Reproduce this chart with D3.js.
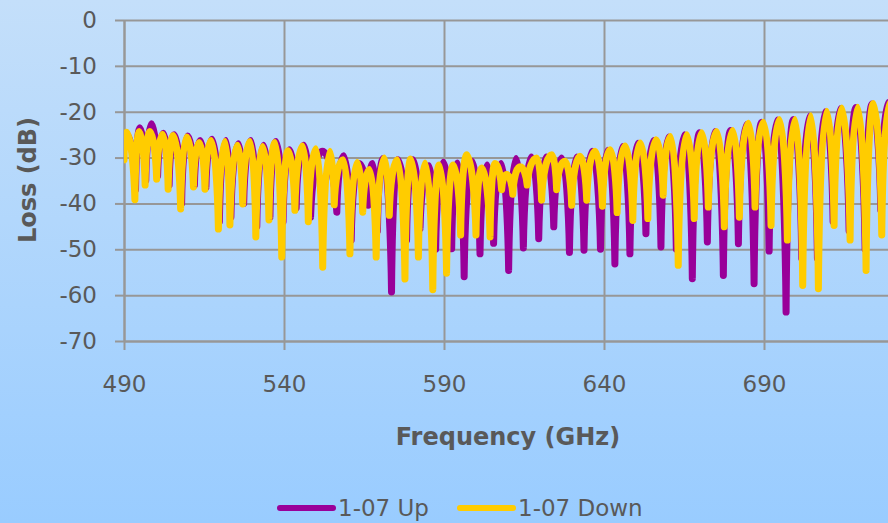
<!DOCTYPE html>
<meta charset="utf-8">
<script src="https://d3js.org/d3.v7.min.js"></script>
<style type="text/css">
  body { margin: 0; }
  text { font-family: "DejaVu Sans", Verdana, sans-serif; fill: #595959; }
</style>
<body>
<svg width="888" height="523"></svg>
<script>

    // tick labels
    let xTicks = [490, 540, 590, 640, 690],
        yTicks = [0, -10, -20, -30, -40, -50, -60, -70]

    let seriesNames = ['1-07 Up', '1-07 Down'],
        seriesColors = ['#990099', '#ffcc00']

    // [frequency GHz, loss dB] at each ripple peak / notch
    let upPts = [[490.0,-28.0],[490.9,-25.0],[493.6,-37.0],[495.0,-23.5],[496.8,-35.0],[498.6,-22.6],[500.5,-34.0],[502.3,-24.7],
        [504.1,-36.0],[505.7,-25.0],[508.0,-40.0],[509.9,-25.3],[512.0,-36.0],[513.8,-26.3],[515.6,-36.5],[517.5,-26.0],
        [519.8,-44.0],[521.9,-26.3],[523.4,-43.0],[525.8,-27.0],[527.4,-40.0],[529.7,-26.3],[531.5,-45.0],[533.6,-27.3],
        [535.6,-43.0],[537.5,-26.5],[539.7,-44.0],[541.7,-28.3],[543.8,-41.0],[546.2,-27.3],[548.3,-43.0],[552.0,-28.6],
        [556.5,-41.9],[558.6,-29.6],[561.0,-48.0],[563.4,-31.3],[566.3,-40.4],[567.7,-31.3],[569.2,-46.0],[571.0,-30.2],
        [573.6,-59.3],[575.6,-30.5],[578.3,-48.0],[580.3,-30.5],[582.5,-45.5],[585.3,-31.8],[587.4,-50.0],[589.8,-31.0],
        [592.4,-49.9],[594.3,-31.2],[596.3,-56.0],[598.8,-30.8],[601.25,-51.0],[603.5,-31.6],[605.5,-48.7],[607.9,-31.3],
        [610.2,-54.6],[612.5,-30.2],[614.8,-49.7],[617.3,-29.9],[619.6,-47.7],[622.0,-29.9],[624.3,-45.1],[626.8,-30.1],
        [629.2,-50.7],[631.5,-29.9],[633.75,-50.2],[636.3,-28.6],[638.9,-50.0],[641.2,-28.4],[643.4,-53.2],[645.8,-27.6],
        [648.1,-51.0],[650.6,-26.9],[653.1,-46.6],[655.5,-26.3],[657.8,-49.5],[660.2,-25.5],[662.6,-50.0],[665.2,-25.0],
        [667.6,-56.4],[669.9,-24.6],[672.3,-48.4],[674.7,-24.3],[677.3,-55.7],[679.6,-24.1],[682.0,-48.8],[684.5,-22.8],
        [686.9,-57.5],[689.3,-22.3],[691.6,-50.4],[694.2,-21.8],[696.9,-63.7],[699.2,-21.7],[701.8,-52.0],[704.2,-21.0],
        [706.7,-52.0],[709.1,-20.0],[711.6,-44.0],[713.9,-19.3],[716.6,-46.0],[718.8,-19.1],[721.6,-50.0],[723.8,-18.3],
        [726.5,-41.5],[728.8,-18.0],[731.3,-40.0]]

    let downPts = [[490.0,-30.5],[490.8,-24.5],[493.4,-39.2],[494.8,-24.3],[496.6,-36.0],[498.1,-24.3],[500.2,-34.7],[502.1,-24.9],
        [503.8,-36.9],[505.4,-25.2],[507.7,-41.2],[509.6,-25.5],[511.7,-36.4],[513.5,-26.7],[515.3,-36.9],[517.2,-26.3],
        [519.5,-45.6],[521.6,-26.5],[523.1,-44.7],[525.5,-27.3],[527.1,-40.1],[529.4,-26.5],[531.2,-47.3],[533.3,-27.6],
        [535.3,-43.6],[537.2,-26.7],[539.3,-51.7],[541.3,-28.5],[543.4,-41.5],[545.8,-27.5],[547.6,-44.0],[550.0,-28.1],
        [552.1,-53.9],[554.4,-28.6],[555.7,-40.3],[558.5,-30.5],[560.6,-51.0],[562.9,-31.1],[564.6,-41.9],[566.7,-32.6],
        [568.8,-51.7],[571.3,-30.1],[572.9,-42.6],[575.4,-30.5],[577.8,-56.5],[579.6,-30.3],[582.0,-51.7],[584.1,-31.2],
        [586.5,-58.8],[588.5,-31.6],[590.8,-55.2],[592.9,-31.6],[595.2,-46.9],[597.1,-29.4],[600.0,-46.9],[601.8,-32.3],
        [604.4,-47.3],[605.9,-31.3],[608.0,-37.0],[609.6,-33.7],[611.5,-38.0],[613.8,-32.0],[616.0,-36.0],[619.0,-30.1],
        [620.5,-39.3],[623.7,-29.4],[625.2,-37.0],[627.8,-30.8],[629.9,-40.4],[632.5,-29.7],[634.6,-39.3],[637.2,-28.6],
        [639.5,-40.6],[641.9,-28.3],[644.1,-42.0],[646.6,-27.5],[649.0,-43.7],[651.3,-26.8],[653.7,-43.3],[656.3,-26.1],
        [658.5,-38.2],[660.8,-25.4],[663.2,-53.5],[665.8,-25.0],[668.2,-43.3],[670.5,-24.6],[672.6,-40.8],[675.2,-24.3],
        [677.6,-45.1],[680.2,-24.1],[682.3,-43.0],[685.1,-22.5],[687.2,-40.8],[689.8,-22.3],[692.2,-44.8],[694.8,-21.7],
        [697.3,-48.0],[699.7,-21.7],[702.1,-57.9],[704.6,-20.9],[707.0,-58.6],[709.6,-19.9],[711.9,-44.8],[714.3,-19.2],
        [716.9,-48.0],[719.3,-19.0],[721.9,-54.6],[724.2,-18.2],[726.8,-46.9],[729.3,-18.0],[731.8,-42.0]]

    let plotLeft = 124, plotTop = 20, plotBottom = 341, plotRight = 924

    let x = d3.scaleLinear().domain([490, 740]).range([plotLeft, plotRight]),
        y = d3.scaleLinear().domain([-70, 0]).range([plotBottom, plotTop])

    let svg = d3.select('svg'),
        defs = svg.append('defs')

    let bg = defs.append('linearGradient').attr('id', 'bg')
        .attr('x1', '0%').attr('y1', '0%').attr('x2', '0%').attr('y2', '100%')
    bg.append('stop').attr('offset', '0%').attr('stop-color', '#c4dffa')
    bg.append('stop').attr('offset', '100%').attr('stop-color', '#99ccff')

    defs.append('clipPath').attr('id', 'plot')
        .append('rect').attr('x', plotLeft).attr('y', 0)
        .attr('width', plotRight - plotLeft).attr('height', plotBottom + 5)

    svg.append('rect').attr('width', 888).attr('height', 523).attr('fill', 'url(#bg)')

    let gridColor = '#979797'

    // grid lines
    svg.append('g').attr('transform', `translate(${plotLeft},0)`)
        .call(d3.axisRight(y).tickValues(yTicks).tickSize(plotRight - plotLeft).tickFormat(''))
        .call(g => g.select('.domain').remove())
        .selectAll('line').attr('stroke', gridColor).attr('stroke-width', 2)

    svg.append('g').attr('transform', `translate(0,${plotBottom})`)
        .call(d3.axisTop(x).tickValues(xTicks).tickSize(plotBottom - plotTop).tickFormat(''))
        .call(g => g.select('.domain').remove())
        .selectAll('line').attr('stroke', gridColor).attr('stroke-width', 2)

    // axes (plain hyphen minus like the original)
    let yAxis = svg.append('g').attr('transform', `translate(${plotLeft},0)`)
        .call(d3.axisLeft(y).tickValues(yTicks).tickFormat(d => String(d))
            .tickSizeInner(9).tickSizeOuter(0).tickPadding(18))
    let xAxis = svg.append('g').attr('transform', `translate(0,${plotBottom})`)
        .call(d3.axisBottom(x).tickValues(xTicks).tickFormat(d => String(d))
            .tickSizeInner(9).tickSizeOuter(0).tickPadding(26))

    ;[yAxis, xAxis].forEach(a => {
        a.selectAll('line, path').attr('stroke', gridColor).attr('stroke-width', 2)
        a.selectAll('text').attr('fill', '#595959').style('font-size', '23px')
            .style('font-family', '"DejaVu Sans", Verdana, sans-serif')
    })

    // ripple path: rounded peaks, sharp notches
    let ripple = pts => {
        let p = d3.path()
        pts.forEach((d, i) => {
            let x1 = x(d[0]), y1 = y(d[1])
            if (i === 0) { p.moveTo(x1, y1); return }
            let x0 = x(pts[i-1][0]), y0 = y(pts[i-1][1]), dx = x1 - x0
            if (y1 > y0) {
                p.bezierCurveTo(x0 + dx*0.5, y0, x1 - dx*0.1, y0 + (y1-y0)*0.55, x1, y1)
            } else {
                p.bezierCurveTo(x0 + dx*0.1, y1 + (y0-y1)*0.45, x1 - dx*0.5, y1, x1, y1)
            }
        })
        return p.toString()
    }

    let plot = svg.append('g').attr('clip-path', 'url(#plot)')

    plot.selectAll('path.series').data([upPts, downPts]).enter().append('path')
        .attr('class', 'series')
        .attr('d', ripple)
        .attr('fill', 'none')
        .attr('stroke', (d,i) => seriesColors[i])
        .attr('stroke-width', 7)
        .attr('stroke-linejoin', 'round')
        .attr('stroke-linecap', 'round')

    // axis titles
    svg.append('text')
        .attr('transform', 'translate(36,180) rotate(-90)')
        .attr('text-anchor', 'middle')
        .style('font-size', '24px').style('font-weight', 'bold')
        .text('Loss (dB)')

    svg.append('text')
        .attr('x', 508).attr('y', 445)
        .attr('text-anchor', 'middle')
        .style('font-size', '24px').style('font-weight', 'bold')
        .text('Frequency (GHz)')

    // legend
    let legendX = [280, 460]
    let legend = svg.selectAll('g.legend').data(seriesNames).enter().append('g')
        .attr('class', 'legend')
        .attr('transform', (d,i) => `translate(${legendX[i]},508)`)
    legend.append('line')
        .attr('x1', 0).attr('x2', 53)
        .attr('stroke', (d,i) => seriesColors[i])
        .attr('stroke-width', 6)
        .attr('stroke-linecap', 'round')
    legend.append('text')
        .attr('x', 58).attr('y', 8)
        .style('font-size', '23px')
        .text(d => d)

</script>
</body>
